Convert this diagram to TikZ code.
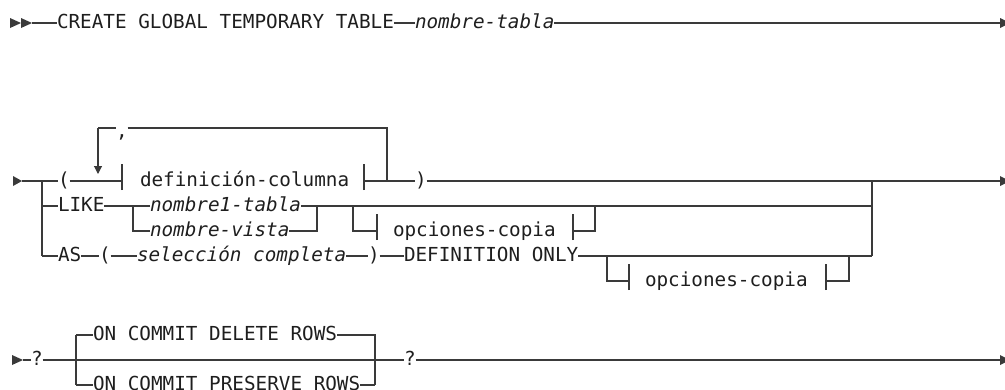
\documentclass[tikz,border=0pt]{standalone}
\usepackage{fontspec}
\setmonofont{DejaVu Sans Mono}
\usetikzlibrary{arrows.meta}
\definecolor{lc}{HTML}{3A3A3A}
\definecolor{txt}{HTML}{1E1E1E}
\begin{document}
\begin{tikzpicture}[x=1pt,y=-1pt,
  t/.style={anchor=west,inner sep=0pt,outer sep=0pt,text height=14pt,text depth=4pt,font=\ttfamily\fontsize{19.3}{21}\selectfont,text=txt},
  ti/.style={t,font=\ttfamily\itshape\fontsize{19.3}{21}\selectfont},
  wire/.style={draw=lc,line width=1.1pt},
  bar/.style={wire,line cap=butt}]
\useasboundingbox (0,0) rectangle (1005,389);

% ---------- Row 1 ----------
\fill[lc] (10,18) -- (21,23) -- (10,28) -- cycle;
\fill[lc] (21,18) -- (32,23) -- (21,28) -- cycle;
\coordinate (s1) at (32,23);
\node[t] (create) at (57,23) {CREATE GLOBAL TEMPORARY TABLE};
\node[ti] (tab) at (415,23) {nombre-tabla};
\coordinate (e1) at (1000,23);
\draw[wire] (s1) -- (create.west);
\draw[wire] (create.east) -- (tab.west);
\draw[wire] (tab.east) -- (e1);
\fill[lc] (1000,18) -- (1010,23) -- (1000,28) -- cycle;

% ---------- Row 2 ----------
\fill[lc] (13,176) -- (22,181) -- (13,186) -- cycle;
\coordinate (s2) at (22,181);
\coordinate (j1) at (42,181);
\coordinate (j2) at (42,206);
\coordinate (j3) at (42,256);
\node[t] (lp) at (58,181) {(};
\coordinate (dl) at (122,181);
\node[t] (def) at (140,181) {definición-columna};
\coordinate (dr) at (364,181);
\coordinate (lr) at (387,181);
\node[t] (rp) at (415,181) {)};
\coordinate (rj) at (872,181);
\coordinate (e2) at (1000,181);

% loop
\coordinate (la) at (98,128);
\coordinate (lb) at (387,128);
\node[t] (comma) at (116,132) {,};
\draw[wire] (la) -- (la -| comma.west);
\draw[wire] (comma.east |- la) -- (lb) -- (lr);
\draw[wire,-{Triangle[width=8pt,length=8pt]}] (la) -- (98,174);

\draw[wire] (s2) -- (lp.west);
\draw[wire] (lp.east) -- (dl);
\draw[bar] ([yshift=-9pt]dl) -- ([yshift=17pt]dl);
\draw[bar] ([yshift=-9pt]dr) -- ([yshift=17pt]dr);
\draw[wire] (dr) -- (rp.west);
\draw[wire] (rp.east) -- (e2);
\fill[lc] (1000,176) -- (1010,181) -- (1000,186) -- cycle;
\draw[wire] (j1) -- (j3);
\draw[wire] (rj) -- (872,256);

% LIKE
\node[t] (like) at (58,206) {LIKE};
\coordinate (n1l) at (133,206);
\coordinate (n2l) at (133,231);
\node[ti] (nt) at (150,206) {nombre1-tabla};
\node[ti] (nv) at (150,231) {nombre-vista};
\coordinate (n1r) at (317,206);
\coordinate (n2r) at (317,231);
\coordinate (rj2) at (872,206);
\draw[wire] (j2) -- (like.west);
\draw[wire] (like.east) -- (n1l) -- (nt.west);
\draw[wire] (n1l) -- (n2l) -- (nv.west);
\draw[wire] (nt.east) -- (n1r);
\draw[wire] (nv.east) -- (n2r) -- (n1r);
\draw[wire] (n1r) -- (rj2);

% opciones-copia 1
\coordinate (o1a) at (353,206);
\coordinate (o1b) at (353,231);
\coordinate (o1L) at (377,231);
\node[t] (opc1) at (393,231) {opciones-copia};
\coordinate (o1R) at (573,231);
\coordinate (o1c) at (595,231);
\coordinate (o1d) at (595,206);
\draw[wire] (o1a) -- (o1b) -- (o1L);
\draw[bar] ([yshift=-9pt]o1L) -- ([yshift=17pt]o1L);
\draw[bar] ([yshift=-9pt]o1R) -- ([yshift=17pt]o1R);
\draw[wire] (o1R) -- (o1c) -- (o1d);

% AS row
\node[t] (as) at (58,256) {AS};
\node[t] (lp2) at (99,256) {(};
\node[ti] (sel) at (137,256) {selección completa};
\node[t] (rp2) at (368,256) {)};
\node[t] (defo) at (404,256) {DEFINITION ONLY};
\coordinate (rj3) at (872,256);
\draw[wire] (j3) -- (as.west);
\draw[wire] (as.east) -- (lp2.west);
\draw[wire] (lp2.east) -- (sel.west);
\draw[wire] (sel.east) -- (rp2.west);
\draw[wire] (rp2.east) -- (defo.west);
\draw[wire] (defo.east) -- (rj3);

% opciones-copia 2
\coordinate (o2a) at (607,256);
\coordinate (o2b) at (607,281);
\coordinate (o2L) at (629,281);
\node[t] (opc2) at (645,281) {opciones-copia};
\coordinate (o2R) at (826,281);
\coordinate (o2c) at (849,281);
\coordinate (o2d) at (849,256);
\draw[wire] (o2a) -- (o2b) -- (o2L);
\draw[bar] ([yshift=-9pt]o2L) -- ([yshift=17pt]o2L);
\draw[bar] ([yshift=-9pt]o2R) -- ([yshift=17pt]o2R);
\draw[wire] (o2R) -- (o2c) -- (o2d);

% ---------- Row 3 ----------
\fill[lc] (12,355) -- (23,360) -- (12,365) -- cycle;
\coordinate (s3) at (23,360);
\node[t] (q1) at (31,360) {?};
\coordinate (k2) at (76,335);
\coordinate (k3) at (76,385);
\node[t] (del) at (93,335) {ON COMMIT DELETE ROWS};
\node[t] (pre) at (93,385) {ON COMMIT PRESERVE ROWS};
\coordinate (m2) at (375,335);
\coordinate (m3) at (375,385);
\node[t] (q2) at (404,360) {?};
\coordinate (e3) at (1000,360);
\draw[wire] (s3) -- (q1.west);
\draw[wire] (q1.east) -- (q2.west);
\draw[wire] (k2) -- (k3);
\draw[wire] (k2) -- (del.west);
\draw[wire] (k3) -- (pre.west);
\draw[wire] (del.east) -- (m2) -- (m3);
\draw[wire] (pre.east) -- (m3);
\draw[wire] (q2.east) -- (e3);
\fill[lc] (1000,355) -- (1010,360) -- (1000,365) -- cycle;
\end{tikzpicture}
\end{document}
